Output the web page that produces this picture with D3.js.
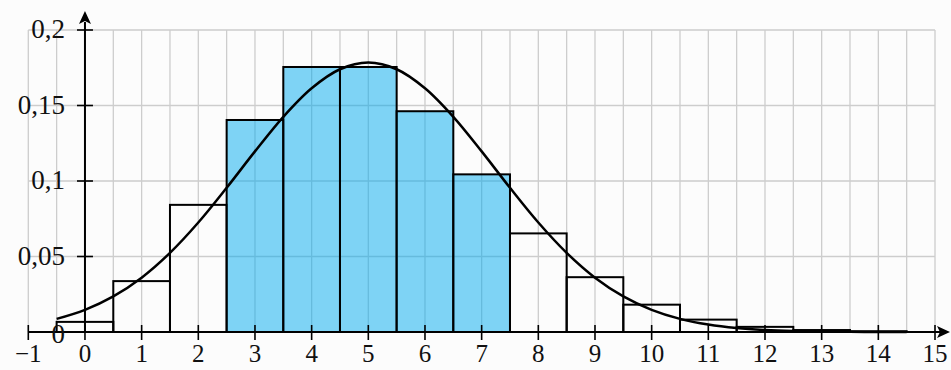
<!DOCTYPE html>
<html><head><meta charset="utf-8">
<script src="https://cdn.jsdelivr.net/npm/d3@7"></script>
<style>
html,body{margin:0;padding:0;background:#fcfcfc;}
svg{display:block;}
text{font-family:"Liberation Serif","Times New Roman",serif;fill:#111;}
</style></head>
<body>
<svg id="chart" width="951" height="370"></svg>
<script>
// Histogram categories (k) and probabilities
const categories = [0,1,2,3,4,5,6,7,8,9,10,11,12,13,14];
const probabilities = [0.0067,0.0337,0.0842,0.1404,0.1755,0.1755,0.1462,0.1044,0.0653,0.0363,0.0181,0.0082,0.0034,0.0013,0.0005];
const highlighted = [3,4,5,6,7];
// Bell curve sample points (x, density)
const curveX = [-0.5,0,0.5,1,1.5,2,2.5,3,3.5,4,4.5,5,5.5,6,6.5,7,7.5,8,8.5,9,9.5,10,10.5,11,11.5,12,12.5,13,13.5,14,14.5];
const curveY = [0.0087,0.0147,0.0236,0.0360,0.0524,0.0725,0.0955,0.1196,0.1425,0.1614,0.1740,0.1784,0.1740,0.1614,0.1425,0.1196,0.0955,0.0725,0.0524,0.0360,0.0236,0.0147,0.0087,0.0049,0.0026,0.0013,0.0006,0.0003,0.0001,0.00005,0.00002];
const xTicks = [-1,0,1,2,3,4,5,6,7,8,9,10,11,12,13,14,15];
const yTicks = [0,0.05,0.1,0.15,0.2];
const yTickLabels = ["0","0,05","0,1","0,15","0,2"];

const svg = d3.select("#chart");
const x = d3.scaleLinear().domain([-1,15]).range([28.3,935]);
const y = d3.scaleLinear().domain([0,0.2]).range([332,30]);

// grid
const g = svg.append("g").attr("stroke","#cdcdcd").attr("stroke-width",1.3);
const vgrid = d3.range(-1,15.01,0.5);
g.selectAll("line.v").data(vgrid).join("line")
  .attr("x1",d=>x(d)).attr("x2",d=>x(d)).attr("y1",y(0)).attr("y2",y(0.2));
g.selectAll("line.h").data(yTicks).join("line")
  .attr("x1",x(-1)).attr("x2",x(15)).attr("y1",d=>y(d)).attr("y2",d=>y(d));

// bars
const bars = categories.map((k,i)=>({k, p:probabilities[i]}));
svg.append("g").selectAll("rect").data(bars).join("rect")
  .attr("x",d=>x(d.k-0.5)).attr("width",d=>x(d.k+0.5)-x(d.k-0.5))
  .attr("y",d=>y(d.p)).attr("height",d=>y(0)-y(d.p))
  .attr("fill",d=>highlighted.includes(d.k)?"#00aaee":"none")
  .attr("fill-opacity",0.5)
  .attr("stroke","#000").attr("stroke-width",2);

// axes
const ax = svg.append("g");
ax.append("line").attr("x1",x(-1)).attr("x2",941).attr("y1",y(0)).attr("y2",y(0)).attr("stroke","#000").attr("stroke-width",2);
ax.append("path").attr("d",`M950,${y(0)} L937,${y(0)-6} L940,${y(0)} L937,${y(0)+6} Z`).attr("fill","#000");
ax.append("line").attr("x1",x(0)).attr("x2",x(0)).attr("y1",y(0)).attr("y2",22).attr("stroke","#000").attr("stroke-width",2);
ax.append("path").attr("d",`M${x(0)},11 L${x(0)-6},24 L${x(0)},21 L${x(0)+6},24 Z`).attr("fill","#000");

// x ticks
ax.selectAll("line.xt").data(xTicks).join("line")
  .attr("x1",d=>x(d)).attr("x2",d=>x(d)).attr("y1",y(0)-7).attr("y2",y(0)+8)
  .attr("stroke","#000").attr("stroke-width",1.6);
ax.selectAll("text.xl").data(xTicks).join("text")
  .attr("x",d=>x(d)).attr("y",362).attr("text-anchor","middle").attr("font-size",25)
  .text(d=>d<0?"\u2212"+Math.abs(d):String(d));

// y ticks
ax.selectAll("line.yt").data(yTicks.slice(1)).join("line")
  .attr("x1",x(0)-8).attr("x2",x(0)+8).attr("y1",d=>y(d)).attr("y2",d=>y(d))
  .attr("stroke","#000").attr("stroke-width",1.6);
ax.selectAll("text.yl").data(yTicks).join("text")
  .attr("x",65).attr("y",d=>y(d)+ (d===0?11:8)).attr("text-anchor","end").attr("font-size",27)
  .text((d,i)=>yTickLabels[i]);

// curve
const pts = curveX.map((v,i)=>[v,curveY[i]]);
svg.append("path").datum(pts)
  .attr("d",d3.line().x(d=>x(d[0])).y(d=>y(d[1])).curve(d3.curveCatmullRom))
  .attr("fill","none").attr("stroke","#000").attr("stroke-width",2.5);
</script>
</body></html>
